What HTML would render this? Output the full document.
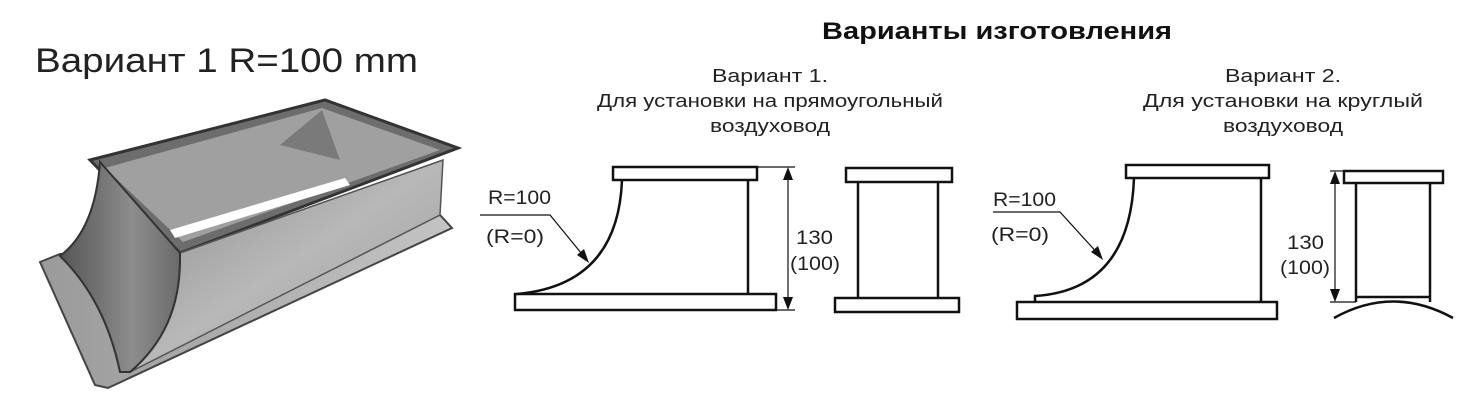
<!DOCTYPE html>
<html><head><meta charset="utf-8"><style>
body{margin:0;background:#fff;width:1469px;height:410px;overflow:hidden;font-family:"Liberation Sans",Arial,sans-serif}
svg{position:absolute;left:0;top:0}
</style></head><body>
<svg width="1469" height="410" viewBox="0 0 1469 410" xmlns="http://www.w3.org/2000/svg" font-family="Liberation Sans, Arial, sans-serif">
<defs>
<linearGradient id="g1" x1="0" y1="0" x2="1" y2="1"><stop offset="0" stop-color="#8a8a8a"/><stop offset="0.5" stop-color="#b8b8b8"/><stop offset="1" stop-color="#9a9a9a"/></linearGradient>
<linearGradient id="g2" x1="0" y1="0" x2="1" y2="0"><stop offset="0" stop-color="#555"/><stop offset="0.6" stop-color="#8d8d8d"/><stop offset="1" stop-color="#6a6a6a"/></linearGradient>
<linearGradient id="g3" x1="0" y1="0" x2="1" y2="0"><stop offset="0" stop-color="#9a9a9a"/><stop offset="1" stop-color="#c4c4c4"/></linearGradient>
</defs>
<text x="35" y="72" font-size="34" fill="#222" textLength="383" lengthAdjust="spacingAndGlyphs">Вариант 1 R=100 mm</text>
<!-- photo -->
<polygon points="40,262 60,254 185,252 440,215 452,228 108,388 95,385" fill="url(#g3)" stroke="#444" stroke-width="2"/>
<polygon points="90,160 325,100 458,148 180,253" fill="#6d6d6d" stroke="#333" stroke-width="3"/>
<polygon points="105,168 322,108 440,150 183,242" fill="#a0a0a0"/>
<polygon points="170,230 345,178 350,185 175,238" fill="#fff"/>
<polygon points="280,145 322,110 340,160" fill="#7a7a7a"/>
<polygon points="180,253 443,160 440,215 130,372" fill="url(#g1)" stroke="#555" stroke-width="1.5"/>
<path d="M100,162 L180,253 L180,260 Q180,330 130,372 L120,372 Q105,300 60,256 Q95,230 100,162 Z" fill="url(#g2)" stroke="#333" stroke-width="2"/>
<!-- headers -->
<text x="822" y="39" font-size="24" font-weight="bold" fill="#111" textLength="350" lengthAdjust="spacingAndGlyphs">Варианты изготовления</text>
<g font-size="18" fill="#222" text-anchor="middle">
<text x="770" y="82" textLength="116" lengthAdjust="spacingAndGlyphs">Вариант 1.</text>
<text x="770" y="107" textLength="346" lengthAdjust="spacingAndGlyphs">Для установки на прямоугольный</text>
<text x="770" y="132" textLength="120" lengthAdjust="spacingAndGlyphs">воздуховод</text>
<text x="1283" y="82" textLength="116" lengthAdjust="spacingAndGlyphs">Вариант 2.</text>
<text x="1283" y="107" textLength="280" lengthAdjust="spacingAndGlyphs">Для установки на круглый</text>
<text x="1283" y="132" textLength="120" lengthAdjust="spacingAndGlyphs">воздуховод</text>
</g>
<g stroke="#111" fill="none" stroke-width="2.5">
<rect x="613" y="167" width="144" height="13"/>
<rect x="515" y="294" width="261" height="16"/>
<path d="M622,180 Q618,285 517,294"/>
<line x1="748" y1="180" x2="748" y2="294"/>
<rect x="846" y="168" width="106" height="14"/>
<rect x="835" y="298" width="124" height="14"/>
<line x1="858" y1="182" x2="858" y2="298"/>
<line x1="938" y1="182" x2="938" y2="298"/>
<rect x="1126" y="165" width="143" height="13"/>
<rect x="1017" y="302" width="260" height="17"/>
<path d="M1134,178 Q1130,290 1035,296 L1035,302"/>
<line x1="1261" y1="178" x2="1261" y2="302"/>
<rect x="1344" y="171" width="99" height="12"/>
<line x1="1356" y1="183" x2="1356" y2="302"/>
<line x1="1430" y1="183" x2="1430" y2="302"/>
<line x1="1356" y1="297" x2="1430" y2="297"/>
<path d="M1334,318 Q1393,285 1453,318"/>
</g>
<g stroke="#111" stroke-width="1.2" fill="none">
<line x1="757" y1="167" x2="795" y2="167"/>
<line x1="776" y1="310" x2="795" y2="310"/>
<line x1="788" y1="172" x2="788" y2="305"/>
<polyline points="480,215 550,215 586,259"/>
<polyline points="993,212 1060,212 1100,256"/>
<line x1="1330" y1="171" x2="1344" y2="171"/>
<line x1="1330" y1="302" x2="1356" y2="302"/>
<line x1="1335" y1="176" x2="1335" y2="297"/>
</g>
<g fill="#111">
<polygon points="788,167 783,180 793,180"/>
<polygon points="788,310 783,297 793,297"/>
<polygon points="589,263 577,255 584,249"/>
<polygon points="1103,260 1091,252 1098,246"/>
<polygon points="1335,171 1330,184 1340,184"/>
<polygon points="1335,302 1330,289 1340,289"/>
</g>
<g font-size="19" fill="#222">
<text x="488" y="204" textLength="63" lengthAdjust="spacingAndGlyphs">R=100</text>
<text x="486" y="243" textLength="58" lengthAdjust="spacingAndGlyphs">(R=0)</text>
<text x="796" y="244" textLength="37" lengthAdjust="spacingAndGlyphs">130</text>
<text x="790" y="270" textLength="50" lengthAdjust="spacingAndGlyphs">(100)</text>
<text x="993" y="206" textLength="63" lengthAdjust="spacingAndGlyphs">R=100</text>
<text x="991" y="241" textLength="58" lengthAdjust="spacingAndGlyphs">(R=0)</text>
<text x="1287" y="249" textLength="37" lengthAdjust="spacingAndGlyphs">130</text>
<text x="1280" y="274" textLength="50" lengthAdjust="spacingAndGlyphs">(100)</text>
</g>
</svg>
</body></html>
